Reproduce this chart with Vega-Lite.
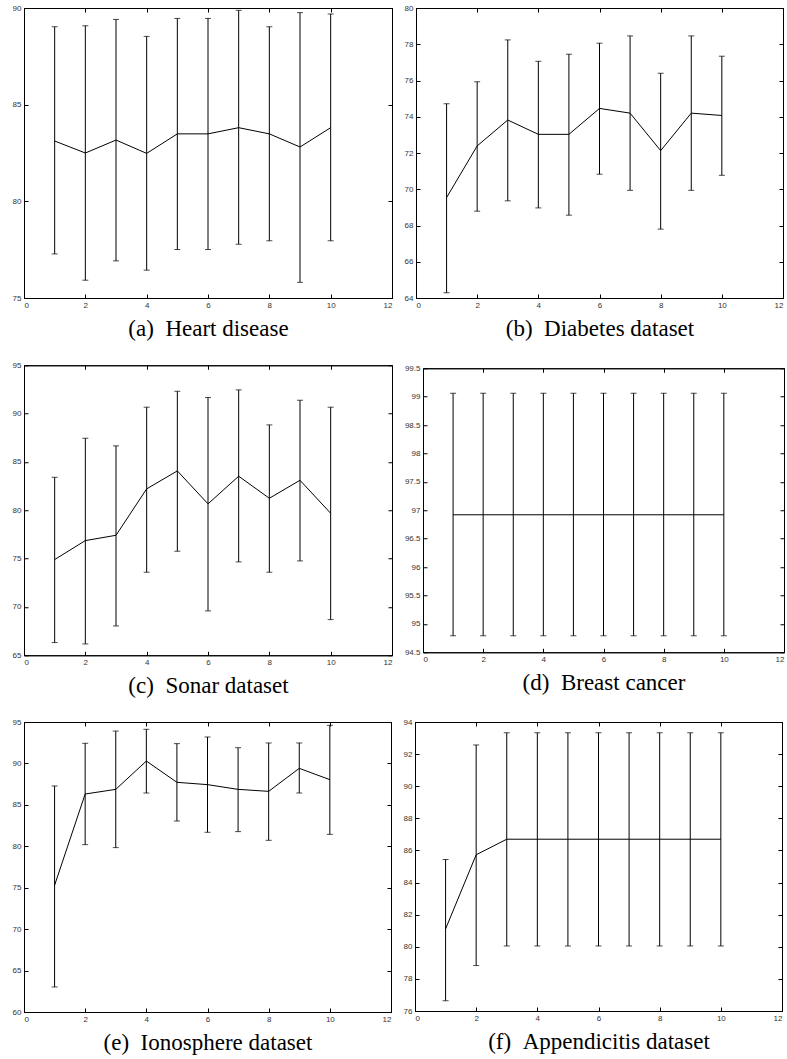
{
  "$schema": "https://vega.github.io/schema/vega-lite/v6.json",
  "padding": {"left": 11, "top": 3, "right": 0, "bottom": 0},
  "background": "white",
  "config": {
    "view": {"stroke": "black", "strokeWidth": 1},
    "axis": {
      "labelFont": "Liberation Sans", "labelFontSize": 8, "labelColor": "#333333",
      "tickColor": "black", "tickSize": -4, "tickWidth": 1, "labelPadding": 7,
      "domainColor": "black", "domainWidth": 1, "grid": false, "format": "~g",
      "titleFont": "Liberation Serif", "titleFontSize": 23, "titleFontWeight": "normal",
      "titleColor": "black", "titlePadding": 8
    }
  },
  "datasets": {
    "a": [
      {"k": 1, "m": 83.12, "lo": 77.28, "hi": 89.03},
      {"k": 2, "m": 82.5, "lo": 75.92, "hi": 89.08},
      {"k": 3, "m": 83.17, "lo": 76.92, "hi": 89.41},
      {"k": 4, "m": 82.48, "lo": 76.44, "hi": 88.53},
      {"k": 5, "m": 83.49, "lo": 77.51, "hi": 89.46},
      {"k": 6, "m": 83.49, "lo": 77.51, "hi": 89.46},
      {"k": 7, "m": 83.81, "lo": 77.78, "hi": 89.88},
      {"k": 8, "m": 83.49, "lo": 77.96, "hi": 89.03},
      {"k": 9, "m": 82.81, "lo": 75.81, "hi": 89.76},
      {"k": 10, "m": 83.81, "lo": 77.96, "hi": 89.69}
    ],
    "b": [
      {"k": 1, "m": 69.54, "lo": 64.29, "hi": 74.72},
      {"k": 2, "m": 72.39, "lo": 68.79, "hi": 75.93},
      {"k": 3, "m": 73.82, "lo": 69.36, "hi": 78.24},
      {"k": 4, "m": 73.03, "lo": 68.97, "hi": 77.06},
      {"k": 5, "m": 73.03, "lo": 68.57, "hi": 77.45},
      {"k": 6, "m": 74.46, "lo": 70.83, "hi": 78.06},
      {"k": 7, "m": 74.2, "lo": 69.94, "hi": 78.46},
      {"k": 8, "m": 72.13, "lo": 67.8, "hi": 76.4},
      {"k": 9, "m": 74.2, "lo": 69.94, "hi": 78.46},
      {"k": 10, "m": 74.07, "lo": 70.77, "hi": 77.34}
    ],
    "c": [
      {"k": 1, "m": 74.9, "lo": 66.31, "hi": 83.41},
      {"k": 2, "m": 76.86, "lo": 66.17, "hi": 87.45},
      {"k": 3, "m": 77.41, "lo": 68.03, "hi": 86.66},
      {"k": 4, "m": 82.21, "lo": 73.59, "hi": 90.66},
      {"k": 5, "m": 84.07, "lo": 75.76, "hi": 92.31},
      {"k": 6, "m": 80.66, "lo": 69.59, "hi": 91.66},
      {"k": 7, "m": 83.52, "lo": 74.66, "hi": 92.45},
      {"k": 8, "m": 81.24, "lo": 73.59, "hi": 88.83},
      {"k": 9, "m": 83.1, "lo": 74.76, "hi": 91.38},
      {"k": 10, "m": 79.69, "lo": 68.69, "hi": 90.66}
    ],
    "d": [
      {"k": 1, "m": 96.92, "lo": 94.79, "hi": 99.06},
      {"k": 2, "m": 96.92, "lo": 94.79, "hi": 99.06},
      {"k": 3, "m": 96.92, "lo": 94.79, "hi": 99.06},
      {"k": 4, "m": 96.92, "lo": 94.79, "hi": 99.06},
      {"k": 5, "m": 96.92, "lo": 94.79, "hi": 99.06},
      {"k": 6, "m": 96.92, "lo": 94.79, "hi": 99.06},
      {"k": 7, "m": 96.92, "lo": 94.79, "hi": 99.06},
      {"k": 8, "m": 96.92, "lo": 94.79, "hi": 99.06},
      {"k": 9, "m": 96.92, "lo": 94.79, "hi": 99.06},
      {"k": 10, "m": 96.92, "lo": 94.79, "hi": 99.06}
    ],
    "e": [
      {"k": 1, "m": 75.29, "lo": 63.02, "hi": 87.28},
      {"k": 2, "m": 86.31, "lo": 80.2, "hi": 92.43},
      {"k": 3, "m": 86.87, "lo": 79.84, "hi": 93.91},
      {"k": 4, "m": 90.29, "lo": 86.43, "hi": 94.12},
      {"k": 5, "m": 87.72, "lo": 83.05, "hi": 92.39},
      {"k": 6, "m": 87.44, "lo": 81.69, "hi": 93.19},
      {"k": 7, "m": 86.87, "lo": 81.77, "hi": 91.9},
      {"k": 8, "m": 86.63, "lo": 80.72, "hi": 92.47},
      {"k": 9, "m": 89.41, "lo": 86.43, "hi": 92.47},
      {"k": 10, "m": 88.04, "lo": 81.44, "hi": 94.6}
    ],
    "f": [
      {"k": 1, "m": 81.11, "lo": 76.64, "hi": 85.44},
      {"k": 2, "m": 85.73, "lo": 78.83, "hi": 92.57},
      {"k": 3, "m": 86.7, "lo": 80.05, "hi": 93.33},
      {"k": 4, "m": 86.7, "lo": 80.05, "hi": 93.33},
      {"k": 5, "m": 86.7, "lo": 80.05, "hi": 93.33},
      {"k": 6, "m": 86.7, "lo": 80.05, "hi": 93.33},
      {"k": 7, "m": 86.7, "lo": 80.05, "hi": 93.33},
      {"k": 8, "m": 86.7, "lo": 80.05, "hi": 93.33},
      {"k": 9, "m": 86.7, "lo": 80.05, "hi": 93.33},
      {"k": 10, "m": 86.7, "lo": 80.05, "hi": 93.33}
    ]
  },
  "spacing": 19,
  "vconcat": [
    {
      "spacing": 10,
      "hconcat": [
        {
          "width": 368, "height": 290,
          "data": {"name": "a"},
          "resolve": {"axis": {"x": "independent", "y": "independent"}},
          "layer": [
            {"mark": {"type": "line", "color": "black", "strokeWidth": 1},
             "encoding": {
               "x": {"field": "k", "type": "quantitative", "scale": {"domain": [0, 12], "nice": false}, "axis": {"orient": "bottom", "values": [0, 2, 4, 6, 8, 10, 12], "title": "(a)\u2002Heart disease"}},
               "y": {"field": "m", "type": "quantitative", "scale": {"domain": [75, 90], "nice": false, "zero": false}, "axis": {"orient": "left", "values": [75, 80, 85, 90], "title": null}}}},
            {"mark": {"type": "rule", "color": "black", "strokeWidth": 1},
             "encoding": {
               "x": {"field": "k", "type": "quantitative", "scale": {"domain": [0, 12], "nice": false}, "axis": {"orient": "top", "values": [0, 2, 4, 6, 8, 10, 12], "labels": false, "title": null}},
               "y": {"field": "lo", "type": "quantitative", "scale": {"domain": [75, 90], "nice": false, "zero": false}, "axis": {"orient": "right", "values": [75, 80, 85, 90], "labels": false, "title": null}},
               "y2": {"field": "hi"}}},
            {"mark": {"type": "tick", "orient": "horizontal", "color": "black", "size": 6, "thickness": 1},
             "encoding": {
               "x": {"field": "k", "type": "quantitative", "scale": {"domain": [0, 12], "nice": false}, "axis": null},
               "y": {"field": "lo", "type": "quantitative", "scale": {"domain": [75, 90], "nice": false, "zero": false}, "axis": null}}},
            {"mark": {"type": "tick", "orient": "horizontal", "color": "black", "size": 6, "thickness": 1},
             "encoding": {
               "x": {"field": "k", "type": "quantitative", "scale": {"domain": [0, 12], "nice": false}, "axis": null},
               "y": {"field": "hi", "type": "quantitative", "scale": {"domain": [75, 90], "nice": false, "zero": false}, "axis": null}}}
          ]
        },
        {
          "width": 367, "height": 290,
          "data": {"name": "b"},
          "resolve": {"axis": {"x": "independent", "y": "independent"}},
          "layer": [
            {"mark": {"type": "line", "color": "black", "strokeWidth": 1},
             "encoding": {
               "x": {"field": "k", "type": "quantitative", "scale": {"domain": [0, 12], "nice": false}, "axis": {"orient": "bottom", "values": [0, 2, 4, 6, 8, 10, 12], "title": "(b)\u2002Diabetes dataset"}},
               "y": {"field": "m", "type": "quantitative", "scale": {"domain": [64, 80], "nice": false, "zero": false}, "axis": {"orient": "left", "values": [64, 66, 68, 70, 72, 74, 76, 78, 80], "title": null}}}},
            {"mark": {"type": "rule", "color": "black", "strokeWidth": 1},
             "encoding": {
               "x": {"field": "k", "type": "quantitative", "scale": {"domain": [0, 12], "nice": false}, "axis": {"orient": "top", "values": [0, 2, 4, 6, 8, 10, 12], "labels": false, "title": null}},
               "y": {"field": "lo", "type": "quantitative", "scale": {"domain": [64, 80], "nice": false, "zero": false}, "axis": {"orient": "right", "values": [64, 66, 68, 70, 72, 74, 76, 78, 80], "labels": false, "title": null}},
               "y2": {"field": "hi"}}},
            {"mark": {"type": "tick", "orient": "horizontal", "color": "black", "size": 6, "thickness": 1},
             "encoding": {
               "x": {"field": "k", "type": "quantitative", "scale": {"domain": [0, 12], "nice": false}, "axis": null},
               "y": {"field": "lo", "type": "quantitative", "scale": {"domain": [64, 80], "nice": false, "zero": false}, "axis": null}}},
            {"mark": {"type": "tick", "orient": "horizontal", "color": "black", "size": 6, "thickness": 1},
             "encoding": {
               "x": {"field": "k", "type": "quantitative", "scale": {"domain": [0, 12], "nice": false}, "axis": null},
               "y": {"field": "hi", "type": "quantitative", "scale": {"domain": [64, 80], "nice": false, "zero": false}, "axis": null}}}
          ]
        }
      ]
    },
    {
      "spacing": 10,
      "center": true,
      "hconcat": [
        {
          "width": 368, "height": 290,
          "data": {"name": "c"},
          "resolve": {"axis": {"x": "independent", "y": "independent"}},
          "layer": [
            {"mark": {"type": "line", "color": "black", "strokeWidth": 1},
             "encoding": {
               "x": {"field": "k", "type": "quantitative", "scale": {"domain": [0, 12], "nice": false}, "axis": {"orient": "bottom", "values": [0, 2, 4, 6, 8, 10, 12], "title": "(c)\u2002Sonar dataset"}},
               "y": {"field": "m", "type": "quantitative", "scale": {"domain": [65, 95], "nice": false, "zero": false}, "axis": {"orient": "left", "values": [65, 70, 75, 80, 85, 90, 95], "title": null}}}},
            {"mark": {"type": "rule", "color": "black", "strokeWidth": 1},
             "encoding": {
               "x": {"field": "k", "type": "quantitative", "scale": {"domain": [0, 12], "nice": false}, "axis": {"orient": "top", "values": [0, 2, 4, 6, 8, 10, 12], "labels": false, "title": null}},
               "y": {"field": "lo", "type": "quantitative", "scale": {"domain": [65, 95], "nice": false, "zero": false}, "axis": {"orient": "right", "values": [65, 70, 75, 80, 85, 90, 95], "labels": false, "title": null}},
               "y2": {"field": "hi"}}},
            {"mark": {"type": "tick", "orient": "horizontal", "color": "black", "size": 6, "thickness": 1},
             "encoding": {
               "x": {"field": "k", "type": "quantitative", "scale": {"domain": [0, 12], "nice": false}, "axis": null},
               "y": {"field": "lo", "type": "quantitative", "scale": {"domain": [65, 95], "nice": false, "zero": false}, "axis": null}}},
            {"mark": {"type": "tick", "orient": "horizontal", "color": "black", "size": 6, "thickness": 1},
             "encoding": {
               "x": {"field": "k", "type": "quantitative", "scale": {"domain": [0, 12], "nice": false}, "axis": null},
               "y": {"field": "hi", "type": "quantitative", "scale": {"domain": [65, 95], "nice": false, "zero": false}, "axis": null}}}
          ]
        },
        {
          "width": 361, "height": 284,
          "data": {"name": "d"},
          "resolve": {"axis": {"x": "independent", "y": "independent"}},
          "layer": [
            {"mark": {"type": "line", "color": "black", "strokeWidth": 1},
             "encoding": {
               "x": {"field": "k", "type": "quantitative", "scale": {"domain": [0, 12], "nice": false}, "axis": {"orient": "bottom", "values": [0, 2, 4, 6, 8, 10, 12], "title": "(d)\u2002Breast cancer"}},
               "y": {"field": "m", "type": "quantitative", "scale": {"domain": [94.5, 99.5], "nice": false, "zero": false}, "axis": {"orient": "left", "values": [94.5, 95, 95.5, 96, 96.5, 97, 97.5, 98, 98.5, 99, 99.5], "title": null}}}},
            {"mark": {"type": "rule", "color": "black", "strokeWidth": 1},
             "encoding": {
               "x": {"field": "k", "type": "quantitative", "scale": {"domain": [0, 12], "nice": false}, "axis": {"orient": "top", "values": [0, 2, 4, 6, 8, 10, 12], "labels": false, "title": null}},
               "y": {"field": "lo", "type": "quantitative", "scale": {"domain": [94.5, 99.5], "nice": false, "zero": false}, "axis": {"orient": "right", "values": [94.5, 95, 95.5, 96, 96.5, 97, 97.5, 98, 98.5, 99, 99.5], "labels": false, "title": null}},
               "y2": {"field": "hi"}}},
            {"mark": {"type": "tick", "orient": "horizontal", "color": "black", "size": 6, "thickness": 1},
             "encoding": {
               "x": {"field": "k", "type": "quantitative", "scale": {"domain": [0, 12], "nice": false}, "axis": null},
               "y": {"field": "lo", "type": "quantitative", "scale": {"domain": [94.5, 99.5], "nice": false, "zero": false}, "axis": null}}},
            {"mark": {"type": "tick", "orient": "horizontal", "color": "black", "size": 6, "thickness": 1},
             "encoding": {
               "x": {"field": "k", "type": "quantitative", "scale": {"domain": [0, 12], "nice": false}, "axis": null},
               "y": {"field": "hi", "type": "quantitative", "scale": {"domain": [94.5, 99.5], "nice": false, "zero": false}, "axis": null}}}
          ]
        }
      ]
    },
    {
      "spacing": 10,
      "hconcat": [
        {
          "width": 367, "height": 290,
          "data": {"name": "e"},
          "resolve": {"axis": {"x": "independent", "y": "independent"}},
          "layer": [
            {"mark": {"type": "line", "color": "black", "strokeWidth": 1},
             "encoding": {
               "x": {"field": "k", "type": "quantitative", "scale": {"domain": [0, 12], "nice": false}, "axis": {"orient": "bottom", "values": [0, 2, 4, 6, 8, 10, 12], "title": "(e)\u2002Ionosphere dataset"}},
               "y": {"field": "m", "type": "quantitative", "scale": {"domain": [60, 95], "nice": false, "zero": false}, "axis": {"orient": "left", "values": [60, 65, 70, 75, 80, 85, 90, 95], "title": null}}}},
            {"mark": {"type": "rule", "color": "black", "strokeWidth": 1},
             "encoding": {
               "x": {"field": "k", "type": "quantitative", "scale": {"domain": [0, 12], "nice": false}, "axis": {"orient": "top", "values": [0, 2, 4, 6, 8, 10, 12], "labels": false, "title": null}},
               "y": {"field": "lo", "type": "quantitative", "scale": {"domain": [60, 95], "nice": false, "zero": false}, "axis": {"orient": "right", "values": [60, 65, 70, 75, 80, 85, 90, 95], "labels": false, "title": null}},
               "y2": {"field": "hi"}}},
            {"mark": {"type": "tick", "orient": "horizontal", "color": "black", "size": 6, "thickness": 1},
             "encoding": {
               "x": {"field": "k", "type": "quantitative", "scale": {"domain": [0, 12], "nice": false}, "axis": null},
               "y": {"field": "lo", "type": "quantitative", "scale": {"domain": [60, 95], "nice": false, "zero": false}, "axis": null}}},
            {"mark": {"type": "tick", "orient": "horizontal", "color": "black", "size": 6, "thickness": 1},
             "encoding": {
               "x": {"field": "k", "type": "quantitative", "scale": {"domain": [0, 12], "nice": false}, "axis": null},
               "y": {"field": "hi", "type": "quantitative", "scale": {"domain": [60, 95], "nice": false, "zero": false}, "axis": null}}}
          ]
        },
        {
          "width": 367, "height": 289,
          "data": {"name": "f"},
          "resolve": {"axis": {"x": "independent", "y": "independent"}},
          "layer": [
            {"mark": {"type": "line", "color": "black", "strokeWidth": 1},
             "encoding": {
               "x": {"field": "k", "type": "quantitative", "scale": {"domain": [0, 12], "nice": false}, "axis": {"orient": "bottom", "values": [0, 2, 4, 6, 8, 10, 12], "title": "(f)\u2002Appendicitis dataset"}},
               "y": {"field": "m", "type": "quantitative", "scale": {"domain": [76, 94], "nice": false, "zero": false}, "axis": {"orient": "left", "values": [76, 78, 80, 82, 84, 86, 88, 90, 92, 94], "title": null}}}},
            {"mark": {"type": "rule", "color": "black", "strokeWidth": 1},
             "encoding": {
               "x": {"field": "k", "type": "quantitative", "scale": {"domain": [0, 12], "nice": false}, "axis": {"orient": "top", "values": [0, 2, 4, 6, 8, 10, 12], "labels": false, "title": null}},
               "y": {"field": "lo", "type": "quantitative", "scale": {"domain": [76, 94], "nice": false, "zero": false}, "axis": {"orient": "right", "values": [76, 78, 80, 82, 84, 86, 88, 90, 92, 94], "labels": false, "title": null}},
               "y2": {"field": "hi"}}},
            {"mark": {"type": "tick", "orient": "horizontal", "color": "black", "size": 6, "thickness": 1},
             "encoding": {
               "x": {"field": "k", "type": "quantitative", "scale": {"domain": [0, 12], "nice": false}, "axis": null},
               "y": {"field": "lo", "type": "quantitative", "scale": {"domain": [76, 94], "nice": false, "zero": false}, "axis": null}}},
            {"mark": {"type": "tick", "orient": "horizontal", "color": "black", "size": 6, "thickness": 1},
             "encoding": {
               "x": {"field": "k", "type": "quantitative", "scale": {"domain": [0, 12], "nice": false}, "axis": null},
               "y": {"field": "hi", "type": "quantitative", "scale": {"domain": [76, 94], "nice": false, "zero": false}, "axis": null}}}
          ]
        }
      ]
    }
  ]
}
